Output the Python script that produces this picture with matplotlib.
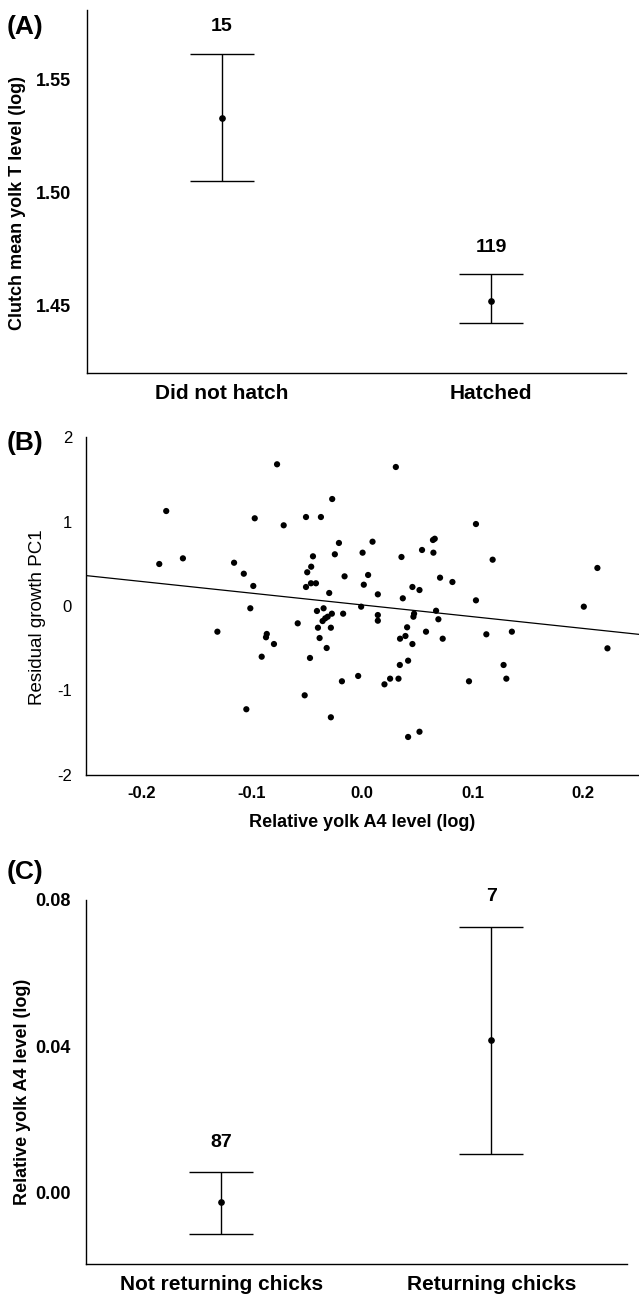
import matplotlib
matplotlib.use("Agg")
import matplotlib.pyplot as plt
import numpy as np

# ---------------- Data ----------------
# Panel A
a_groups = ["Did not hatch", "Hatched"]
a_mean = [1.533, 1.452]
a_lower = [1.505, 1.442]
a_upper = [1.5615, 1.4637]
a_n = [15, 119]
a_yticks = [1.45, 1.50, 1.55]

# Panel B
b_x = [-0.0771, -0.1774, -0.0973, -0.0711, -0.0509, -0.0374, -0.0272, -0.0211,
       -0.0248, -0.0446, -0.0462, -0.0498, -0.0160, 0.0003, -0.1837, -0.1623,
       -0.1160, -0.1072, -0.0986, -0.1013, -0.1311, -0.0864, -0.0871, -0.0799,
       -0.0910, -0.0584, -0.0509, -0.0464, -0.0419, -0.0299, -0.0350, -0.0410,
       -0.0313, -0.0275, -0.0359, -0.0335, -0.0173, -0.0401, -0.0284, -0.0386,
       -0.0322, -0.0473, -0.0037, -0.0184, -0.0521, -0.1049, -0.0284, -0.0010,
       0.0304, 0.1029, 0.0093, 0.0355, 0.0541, 0.0640, 0.0656, 0.0644,
       0.1180, 0.2128, 0.0053, 0.0014, 0.0704, 0.0816, 0.0454, 0.0518,
       0.0141, 0.0367, 0.1029, 0.2005, 0.0141, 0.0141, 0.0469, 0.0463,
       0.0668, 0.0689, 0.0406, 0.0577, 0.0391, 0.0342, 0.0454, 0.0728,
       0.1123, 0.1354, 0.2219, 0.0415, 0.0340, 0.1279, 0.0252, 0.0201,
       0.0328, 0.0966, 0.1304, 0.0518, 0.0415]
b_y = [1.677, 1.124, 1.038, 0.955, 1.053, 1.053, 1.266, 0.746,
       0.612, 0.588, 0.465, 0.399, 0.351, 0.631, 0.497, 0.564,
       0.512, 0.382, 0.237, -0.027, -0.304, -0.331, -0.370, -0.450,
       -0.600, -0.205, 0.225, 0.269, 0.269, 0.154, -0.027, -0.059,
       -0.127, -0.091, -0.178, -0.146, -0.091, -0.257, -0.257, -0.379,
       -0.497, -0.615, -0.828, -0.891, -1.057, -1.222, -1.317, -0.008,
       1.645, 0.970, 0.761, 0.580, 0.663, 0.781, 0.796, 0.631,
       0.548, 0.450, 0.367, 0.252, 0.335, 0.284, 0.225, 0.189,
       0.138, 0.091, 0.067, -0.008, -0.107, -0.174, -0.091, -0.127,
       -0.056, -0.157, -0.252, -0.304, -0.355, -0.387, -0.450, -0.387,
       -0.335, -0.304, -0.501, -0.647, -0.698, -0.698, -0.860, -0.927,
       -0.860, -0.891, -0.860, -1.488, -1.550]
b_fit_slope = -1.39
b_fit_intercept = 0.0125
b_xticks = [-0.2, -0.1, 0.0, 0.1, 0.2]
b_xticklabels = ["-0.2", "-0.1", "0.0", "0.1", "0.2"]
b_yticks = [-2, -1, 0, 1, 2]

# Panel C
c_groups = ["Not returning chicks", "Returning chicks"]
c_mean = [-0.0027, 0.0416]
c_lower = [-0.0113, 0.0106]
c_upper = [0.0055, 0.0727]
c_n = [87, 7]
c_yticks = [0.00, 0.04, 0.08]

# ---------------- Styling ----------------
W, H = 639, 1294
DPI = 100
SANS = ["Liberation Sans", "DejaVu Sans"]
plt.rcParams["font.family"] = SANS

fig = plt.figure(figsize=(W / DPI, H / DPI), dpi=DPI)


def px_axes(left, top, right, bottom):
    return fig.add_axes([left / W, 1 - bottom / H, (right - left) / W, (bottom - top) / H])


def style_axes(ax):
    for s in ["top", "right"]:
        ax.spines[s].set_visible(False)
    for s in ["left", "bottom"]:
        ax.spines[s].set_linewidth(1.0)
        ax.spines[s].set_color("black")
    ax.tick_params(length=0)


def group_panel(ax, groups, mean, lower, upper, n, yticks, ylim, ylabel, fmt, n_off):
    x = np.arange(len(groups))
    mean = np.array(mean)
    yerr = np.vstack([mean - np.array(lower), np.array(upper) - mean])
    ax.errorbar(x, mean, yerr=yerr, fmt="o", color="black", ms=3.8,
                elinewidth=1.0, capsize=23, capthick=1.0)
    for xi, up, ni in zip(x, upper, n):
        ax.annotate(str(ni), (xi, up), xytext=(0, n_off), textcoords="offset points",
                    ha="center", va="center", fontsize=14, fontweight="bold")
    ax.set_xlim(-0.5, 1.5)
    ax.set_ylim(*ylim)
    ax.set_xticks(x)
    ax.set_xticklabels(groups, fontsize=15, fontweight="bold")
    ax.set_yticks(yticks)
    ax.set_yticklabels([fmt.format(v) for v in yticks], fontsize=13,
                       fontweight="bold")
    ax.tick_params(axis="x", pad=8)
    ax.tick_params(axis="y", pad=11)
    ax.set_ylabel(ylabel, fontsize=13, fontweight="bold")
    style_axes(ax)


# Panel A
axA = px_axes(86.7, 10, 626, 373)
group_panel(axA, a_groups, a_mean, a_lower, a_upper, a_n, a_yticks, (1.42, 1.581),
            "Clutch mean yolk T level (log)", "{:.2f}", 19.5)
axA.yaxis.set_label_coords(-0.113, 0.468)

# Panel B
axB = px_axes(86, 437, 638.5, 775)
axB.scatter(b_x, b_y, s=20, color="black", edgecolors="none", zorder=3)
xl = np.array([-0.25, 0.25])
axB.plot(xl, b_fit_intercept + b_fit_slope * xl, color="black", lw=0.9)
axB.set_xlim(-0.25, 0.25)
axB.set_ylim(-2, 2)
axB.set_xticks(b_xticks)
axB.set_xticklabels(b_xticklabels, fontsize=12, fontweight="bold")
axB.set_yticks(b_yticks)
axB.set_yticklabels([str(v) for v in b_yticks], fontsize=12)
axB.tick_params(axis="x", pad=8)
axB.tick_params(axis="y", pad=10)
axB.set_xlabel("Relative yolk A4 level (log)", fontsize=13, fontweight="bold")
axB.set_ylabel("Residual growth PC1", fontsize=13.5)
style_axes(axB)
axB.yaxis.set_label_coords(-0.073, 0.467)
axB.xaxis.set_label_coords(0.5, (775 - 814) / 338)

# Panel C
axC = px_axes(86, 900, 626.5, 1264.3)
group_panel(axC, c_groups, c_mean, c_lower, c_upper, c_n, c_yticks, (-0.0196, 0.08),
            "Relative yolk A4 level (log)", "{:.2f}", 21.5)
axC.yaxis.set_label_coords(-0.102, 0.472)

# Panel letters
for lab, ycen in [("(A)", 27), ("(B)", 443), ("(C)", 872)]:
    fig.text(7 / W, 1 - ycen / H, lab, fontsize=19, fontweight="bold",
             ha="left", va="center")

fig.savefig("out.png", dpi=DPI)
